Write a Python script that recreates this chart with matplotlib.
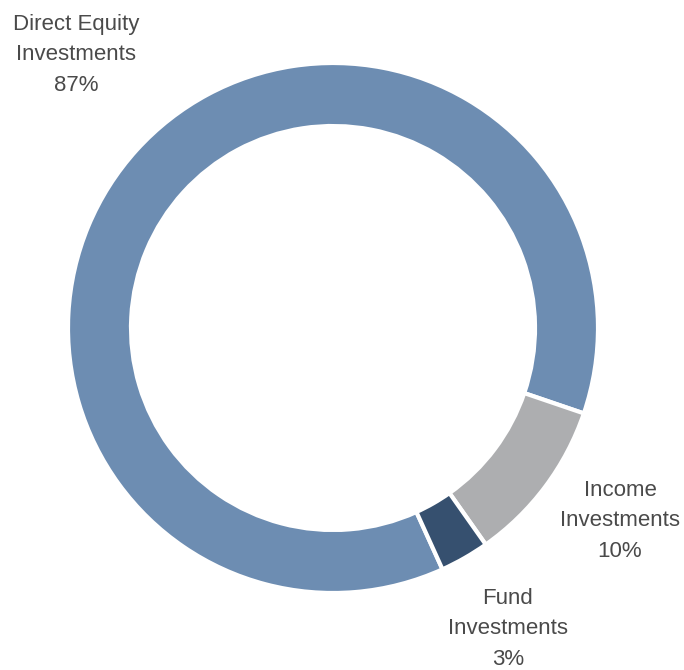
import matplotlib.pyplot as plt

labels = ["Direct Equity\nInvestments\n87%", "Income\nInvestments\n10%", "Fund\nInvestments\n3%"]
values = [87, 10, 3]
colors = ["#6d8db2", "#adaeb0", "#36506f"]

# label anchor points (pixel coords of the 684x670 image)
label_x = [76, 620, 508]
label_y = [55, 521, 629]

plt.rcParams['font.family'] = ['Liberation Sans Narrow', 'Liberation Sans', 'DejaVu Sans']

fig = plt.figure(figsize=(6.84, 6.70), dpi=100)
ax = fig.add_axes([0, 0, 1, 1])

ax.pie(values, colors=colors, startangle=294.4, counterclock=False,
       center=(333, 670 - 328), radius=265,
       wedgeprops=dict(width=63, edgecolor="white", linewidth=3))

for lab, x, y in zip(labels, label_x, label_y):
    ax.text(x, 670 - y, lab, ha="center", va="center", fontsize=16,
            color="#4a4a4a", linespacing=1.58)

ax.set_xlim(0, 684)
ax.set_ylim(0, 670)
ax.set_aspect("equal")
ax.axis("off")

fig.savefig("out.png", dpi=100)
